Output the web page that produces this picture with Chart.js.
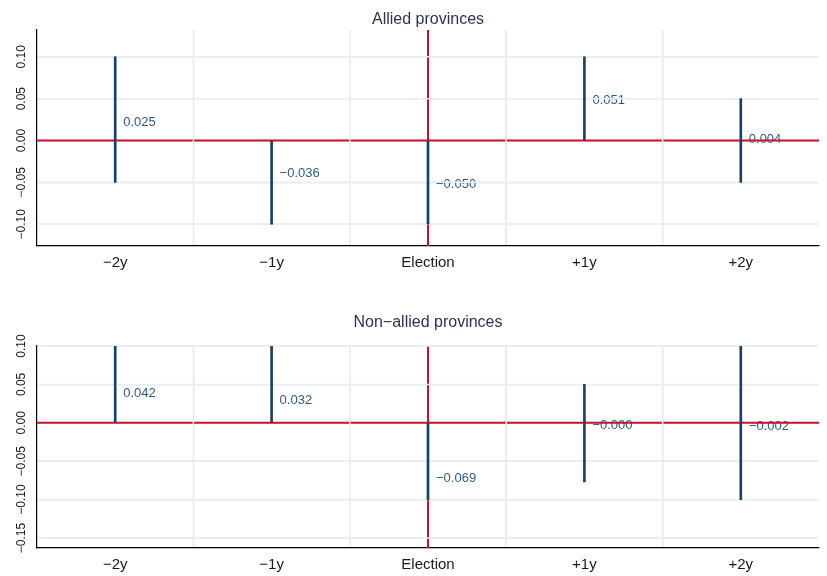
<!DOCTYPE html>
<html><head><meta charset="utf-8">
<script src="https://cdn.jsdelivr.net/npm/chart.js@4/dist/chart.umd.min.js"></script>
<style>html,body{margin:0;padding:0;background:#fff}canvas{display:block}</style>
</head><body>
<canvas id="c1" width="827" height="288"></canvas>
<canvas id="c2" width="827" height="288"></canvas>
<script>
// ---- data ----
const categories = ['−2y', '−1y', 'Election', '+1y', '+2y'];
const alliedEstimates = [0.025, -0.036, -0.050, 0.051, 0.004];
const alliedLow  = [-0.05, -0.10, -0.10, 0.00, -0.05];
const alliedHigh = [ 0.10,  0.00,  0.00, 0.10,  0.05];
const nonAlliedEstimates = [0.042, 0.032, -0.069, -0.0004, -0.002];
const nonAlliedLow  = [0.00, 0.00, -0.10, -0.077, -0.10];
const nonAlliedHigh = [0.10, 0.10,  0.00,  0.05,  0.10];
const alliedYRange = [-0.126, 0.132];
const nonAlliedYRange = [-0.163, 0.10];
const yTickStep = 0.05;
const eventCategory = 'Election';
const titles = ['Allied provinces', 'Non−allied provinces'];

// ---- style ----
const FONT = '"Liberation Sans", Arial, Helvetica, sans-serif';
const gridColor = '#e8eef2';
const blue = '#1b3f66';
const labelBlue = '#2f5b87';
const red = '#c8102e';

function fmt(v, d) {
  let s = (Math.round(v * Math.pow(10, d)) / Math.pow(10, d) === 0 && v >= 0) ? (0).toFixed(d) : v.toFixed(d);
  return s.replace('-', '−');
}

const overlay = {
  id: 'overlay',
  beforeDatasetsDraw(chart, args, opts) {
    const {ctx, chartArea: a, scales: {x, y}} = chart;
    ctx.save();
    // value labels
    ctx.font = '13px ' + FONT;
    ctx.fillStyle = labelBlue;
    ctx.textAlign = 'left';
    ctx.textBaseline = 'middle';
    opts.estimates.forEach((v, i) => {
      ctx.fillText(fmt(v, 3), x.getPixelForValue(i) + 8, y.getPixelForValue(v) + 2.5);
    });
    // reference lines
    ctx.strokeStyle = red;
    ctx.lineWidth = 2;
    const y0 = y.getPixelForValue(0);
    ctx.beginPath(); ctx.moveTo(a.left, y0); ctx.lineTo(a.right, y0); ctx.stroke();
    const xe = x.getPixelForValue(categories.indexOf(eventCategory));
    ctx.beginPath(); ctx.moveTo(xe, a.top); ctx.lineTo(xe, a.bottom); ctx.stroke();
    // gridlines over them
    ctx.strokeStyle = gridColor;
    ctx.lineWidth = 1.5;
    y.ticks.forEach(t => {
      if (Math.abs(t.value) < 1e-9) return;
      const py = y.getPixelForValue(t.value);
      ctx.beginPath(); ctx.moveTo(a.left + 1, py); ctx.lineTo(a.right, py); ctx.stroke();
    });
    for (let i = 0; i < categories.length - 1; i++) {
      const px = (x.getPixelForValue(i) + x.getPixelForValue(i + 1)) / 2;
      ctx.beginPath(); ctx.moveTo(px, a.top); ctx.lineTo(px, a.bottom - 1); ctx.stroke();
    }
    ctx.restore();
  },
  afterDraw(chart, args, opts) {
    const {ctx, chartArea: a} = chart;
    ctx.save();
    ctx.font = '16px ' + FONT;
    ctx.fillStyle = '#2b3452';
    ctx.textAlign = 'center';
    ctx.textBaseline = 'alphabetic';
    ctx.fillText(opts.title, (a.left + a.right) / 2, opts.titleY);
    ctx.restore();
  }
};

function makeChart(id, low, high, est, yr, title, padTop, xHeight, titleY) {
  return new Chart(document.getElementById(id), {
    type: 'bar',
    data: {
      labels: categories,
      datasets: [{
        data: low.map((l, i) => [l, high[i]]),
        backgroundColor: blue,
        borderWidth: 0,
        barThickness: 2
      }]
    },
    plugins: [overlay],
    options: {
      responsive: false,
      animation: false,
      layout: {padding: {top: padTop, right: 8, left: 0, bottom: 0}},
      plugins: {
        legend: {display: false},
        tooltip: {enabled: false},
        title: {display: false},
        overlay: {estimates: est, title: title, titleY: titleY}
      },
      scales: {
        x: {
          offset: true,
          afterFit: s => { s.height = xHeight; },
          grid: {
            offset: true,
            drawTicks: false,
            lineWidth: 1.5,
            color: c => (c.type !== 'tick' || c.index === 0) ? 'rgba(0,0,0,0)' : gridColor
          },
          border: {display: true, color: '#000', width: 1.2},
          ticks: {color: '#1a1a1a', font: {size: 15, family: FONT}, padding: 8, maxRotation: 0}
        },
        y: {
          min: yr[0], max: yr[1],
          afterFit: s => { s.width = 37; },
          grid: {drawTicks: false, color: gridColor, lineWidth: 1.5},
          border: {display: true, color: '#000', width: 1.2},
          ticks: {
            stepSize: yTickStep,
            includeBounds: false,
            minRotation: 90, maxRotation: 90,
            crossAlign: 'center',
            padding: 0,
            color: '#1a1a1a',
            font: {size: 12, family: FONT},
            callback: v => fmt(v, 2)
          }
        }
      }
    }
  });
}

makeChart('c1', alliedLow, alliedHigh, alliedEstimates, alliedYRange, titles[0], 30, 42, 23.5);
makeChart('c2', nonAlliedLow, nonAlliedHigh, nonAlliedEstimates, nonAlliedYRange, titles[1], 58, 28, 38.5);
</script>
</body></html>
